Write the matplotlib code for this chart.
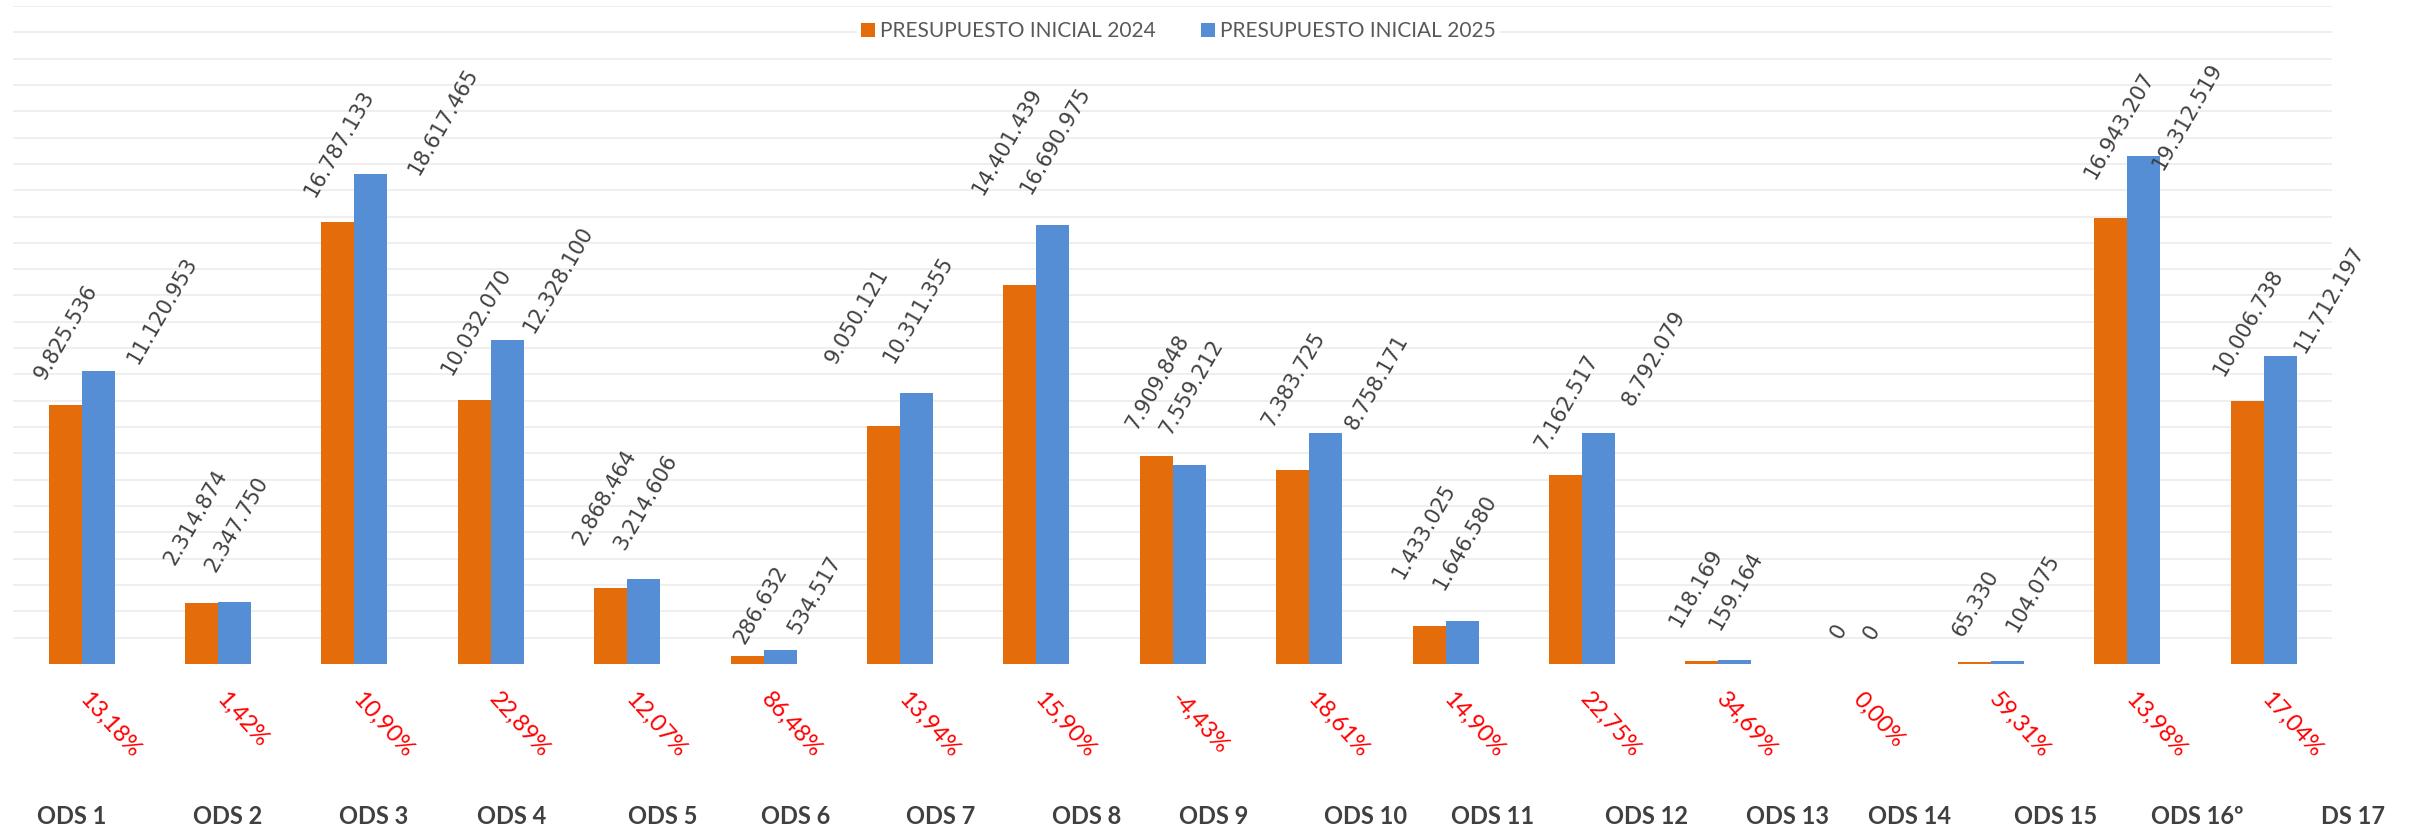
import matplotlib.pyplot as plt
import numpy as np

categories = ['ODS 1', 'ODS 2', 'ODS 3', 'ODS 4', 'ODS 5', 'ODS 6', 'ODS 7', 'ODS 8', 'ODS 9',
              'ODS 10', 'ODS 11', 'ODS 12', 'ODS 13', 'ODS 14', 'ODS 15', 'ODS 16º', 'DS 17']
budget_2024 = [9825536, 2314874, 16787133, 10032070, 2868464, 286632, 9050121, 14401439, 7909848,
               7383725, 1433025, 7162517, 118169, 0, 65330, 16943207, 10006738]
budget_2025 = [11120953, 2347750, 18617465, 12328100, 3214606, 534517, 10311355, 16690975, 7559212,
               8758171, 1646580, 8792079, 159164, 0, 104075, 19312519, 11712197]
change_pct = ['13,18%', '1,42%', '10,90%', '22,89%', '12,07%', '86,48%', '13,94%', '15,90%', '-4,43%',
              '18,61%', '14,90%', '22,75%', '34,69%', '0,00%', '59,31%', '13,98%', '17,04%']

# label nudges in pixels (dx, height above bar top), as placed in the original
nudge_2024 = [(1, 22), (-6, 35), (1, 22), (2, 22), (-6, 40), (14, 9), (-26, 59), (-13, 87), (1, 23),
              (1, 40), (-5, 44), (1, 22), (-6, 31), (1, 22), (1, 22), (8, 36), (1, 22)]
nudge_2025 = [(64, 4), (2, 27), (72, -4), (51, 4), (2, 26), (35, 13), (2, 27), (3, 28), (2, 27),
              (51, 0), (3, 28), (56, 24), (1, 27), (1, 21), (25, 26), (43, -17), (49, 0)]
cat_dx = [-10, 10, 19, 21, 36, 32, 41, 50, 41, 56, 47, 65, 69, 55, 65, 70, 89]

orange = '#E46C0A'
blue = '#558ED5'


def fmt(v):
    return f'{v:,}'.replace(',', '.')


fig = plt.figure(figsize=(24.12, 8.31), dpi=100)
ax = fig.add_axes([0.00556, 0.2010, 0.9613, 0.7918])

x = np.arange(len(categories))
w = 0.242
ax.bar(x - w / 2, budget_2024, w, color=orange, label='PRESUPUESTO INICIAL 2024', zorder=2)
ax.bar(x + w / 2, budget_2025, w, color=blue, label='PRESUPUESTO INICIAL 2025', zorder=2)

ax.set_xlim(-0.5, len(categories) - 0.5)
ax.set_ylim(0, 25_000_000)
# no line at zero, just the light gridlines above it
ax.set_yticks(np.arange(1_000_000, 25_000_001, 1_000_000))
ax.yaxis.grid(True, color='#EFEFEF', lw=1.4)
ax.set_axisbelow(True)
ax.tick_params(left=False, bottom=False, labelleft=False, labelbottom=False)
for s in ax.spines.values():
    s.set_visible(False)

# value labels
for i in range(len(categories)):
    for val, off, sign in ((budget_2024[i], nudge_2024[i], -1), (budget_2025[i], nudge_2025[i], 1)):
        ax.annotate(fmt(val), xy=(x[i] + sign * w / 2, val), xytext=off, textcoords='offset pixels',
                    rotation=60, ha='center', va='bottom', fontsize=15, color='#404040',
                    family='DejaVu Sans', annotation_clip=False)

# percent change labels
for i, p in enumerate(change_pct):
    ax.annotate(p, xy=(x[i], 0), xytext=(-6, -25), textcoords='offset pixels',
                rotation=-48, ha='left', va='top', fontsize=17, color='#FF0000',
                family='Lato', annotation_clip=False)

# category labels
for i, c in enumerate(categories):
    ax.annotate(c, xy=(x[i], 0), xytext=(cat_dx[i], -160), textcoords='offset pixels',
                ha='center', va='baseline', fontsize=17, fontweight='bold', color='#404040',
                family='Lato', annotation_clip=False)

leg = ax.legend(loc='center', bbox_to_anchor=(0.4886, 0.9627), bbox_transform=fig.transFigure,
                ncol=2, frameon=True, facecolor='white', edgecolor='none', framealpha=1,
                prop={'family': 'Lato', 'size': 15}, handlelength=0.65, handleheight=0.65,
                handletextpad=0.25, columnspacing=2.2, borderpad=0.2, labelcolor='#595959')

fig.savefig('out.png', dpi=100)
